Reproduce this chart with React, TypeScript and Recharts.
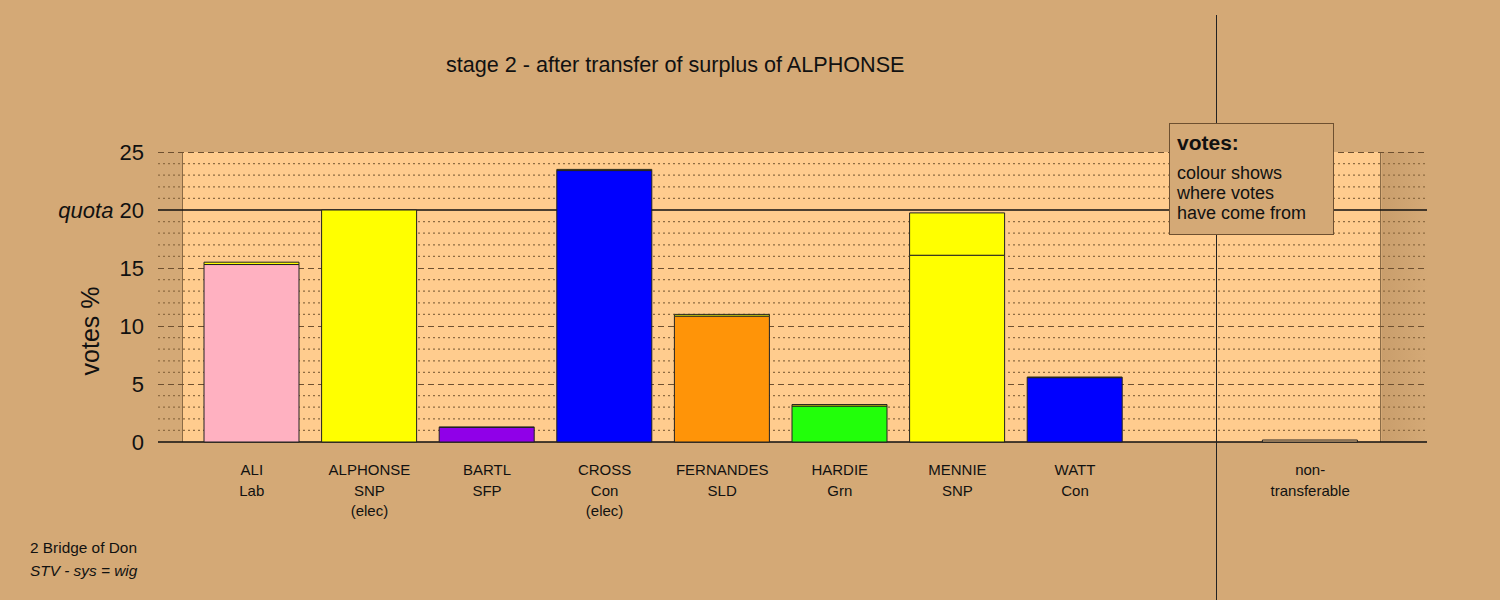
import React from 'react'
import { ComposedChart, Bar, Cell, XAxis, YAxis, CartesianGrid } from 'recharts'

const candidates = ['ALI', 'ALPHONSE', 'BARTL', 'CROSS', 'FERNANDES', 'HARDIE', 'MENNIE', 'WATT', '', 'non-transferable']
const partyLines = [
  ['ALI', 'Lab'],
  ['ALPHONSE', 'SNP', '(elec)'],
  ['BARTL', 'SFP'],
  ['CROSS', 'Con', '(elec)'],
  ['FERNANDES', 'SLD'],
  ['HARDIE', 'Grn'],
  ['MENNIE', 'SNP'],
  ['WATT', 'Con'],
  [],
  ['non-', 'transferable'],
]
// votes held before this stage, and votes received from ALPHONSE's surplus
const ownVotes = [15.3, 20, 1.25, 23.4, 10.85, 3.1, 16.1, 5.55, null, null]
const transferred = [0.2, 0, 0.05, 0.1, 0.15, 0.13, 3.65, 0.05, null, 0.17]
const ownColours = ['#FFB1C1', '#FFFF00', '#9000E8', '#0000FF', '#FF9408', '#22FF0A', '#FFFF00', '#0000FF', '#FFFF00', '#FFCC8E']
const transferColours = ['#FFFF00', '#FFFF00', '#FFFF00', '#FFFF00', '#FFFF00', '#FFFF00', '#FFFF00', '#FFFF00', '#FFFF00', '#FFCC8E']

const yTicks = [0, 5, 10, 15, 20, 25]
// minor grid split in two sets so neither gets thinned out
const minorLinesA = [2, 4, 7, 9, 12, 14, 17, 19, 22, 24]
const minorLinesB = [1, 3, 6, 8, 11, 13, 16, 18, 21, 23]
const dashedLines = [5, 10, 15, 25]
const solidLines = [0, 20]
const QUOTA = 20

const data = candidates.map((name, i) => ({
  name,
  own: ownVotes[i],
  transfer: transferred[i],
}))

const BG = '#D4A976'
const PLOT = '#FFCC8E'
const font = '"Liberation Sans", Arial, sans-serif'

const XTick = ({ x, y, index }: any) => {
  const lines = partyLines[index] || []
  return (
    <g>
      {lines.map((t, k) => (
        <text key={k} x={x} y={y + 25 + k * 20.5} textAnchor="middle" fontSize={15} fill="#111" fontFamily={font}>
          {t}
        </text>
      ))}
    </g>
  )
}

const YTick = ({ x, y, payload }: any) => (
  <text x={x} y={y + 8} textAnchor="end" fontSize={22} fill="#111" fontFamily={font}>
    {payload.value === QUOTA && <tspan fontStyle="italic">quota </tspan>}
    {payload.value}
  </text>
)

export default function App() {
  return (
    <div style={{ position: 'absolute', left: 0, top: 0, width: 1500, height: 600, background: BG, fontFamily: font, overflow: 'hidden' }}>
      <div style={{ position: 'absolute', left: 182, top: 152, width: 1199, height: 290, background: PLOT, borderLeft: '1px solid #8B6B45', borderRight: '1px solid #8B6B45', boxSizing: 'border-box' }} />
      <div style={{ position: 'absolute', left: 1382, top: 152, width: 45, height: 290, background: 'linear-gradient(to right, #C99E6C, #D4A976)' }} />
      <ComposedChart
        width={1500}
        height={600}
        data={data}
        margin={{ top: 152, right: 73, bottom: 128, left: 98 }}
        barSize={95}
        style={{ position: 'absolute', left: 0, top: 0 }}
      >
        <CartesianGrid vertical={false} stroke="#8F6C42" strokeWidth={1.2} strokeDasharray="2 3" horizontalValues={minorLinesA} />
        <CartesianGrid vertical={false} stroke="#8F6C42" strokeWidth={1.2} strokeDasharray="2 3" horizontalValues={minorLinesB} />
        <CartesianGrid vertical={false} stroke="#6E5030" strokeDasharray="6 4" horizontalValues={dashedLines} shapeRendering="crispEdges" />
        <CartesianGrid vertical={false} stroke="#111" strokeWidth={1.5} horizontalValues={solidLines} />
        <XAxis dataKey="name" height={30} axisLine={false} tickLine={false} tickMargin={2} interval={0} padding={{ left: 35, right: 58 }} tick={<XTick />} />
        <YAxis width={60} domain={[0, 25]} ticks={yTicks} axisLine={false} tickLine={false} tickMargin={8} tick={<YTick />} />
        <Bar dataKey="own" stackId="v" stroke="#222" strokeWidth={1} isAnimationActive={false}>
          {data.map((d, i) => (
            <Cell key={i} fill={ownColours[i]} />
          ))}
        </Bar>
        <Bar dataKey="transfer" stackId="v" stroke="#222" strokeWidth={1} isAnimationActive={false}>
          {data.map((d, i) => (
            <Cell key={i} fill={transferColours[i]} />
          ))}
        </Bar>
      </ComposedChart>
      <div style={{ position: 'absolute', left: 1216, top: 15, width: 1, height: 585, background: '#222' }} />
      <div style={{ position: 'absolute', left: 446, top: 52, fontSize: 21.6, color: '#111', whiteSpace: 'nowrap' }}>
        stage 2 - after transfer of surplus of ALPHONSE
      </div>
      <div style={{ position: 'absolute', left: 90, top: 331, transform: 'translate(-50%, -50%) rotate(-90deg)', fontSize: 25, color: '#111', whiteSpace: 'nowrap' }}>
        votes %
      </div>
      <div style={{ position: 'absolute', left: 1169, top: 123, width: 165, height: 112, background: BG, border: '1px solid #6E5030', boxSizing: 'border-box', padding: '7px 0 0 7px', color: '#111' }}>
        <div style={{ fontSize: 21, fontWeight: 'bold', lineHeight: '24px' }}>votes:</div>
        <div style={{ fontSize: 18, lineHeight: '20px', marginTop: 8 }}>
          colour shows
          <br />
          where votes
          <br />
          have come from
        </div>
      </div>
      <div style={{ position: 'absolute', left: 30, top: 536, fontSize: 15.4, color: '#111', lineHeight: '23px' }}>
        2 Bridge of Don
        <br />
        <i>STV - sys = wig</i>
      </div>
    </div>
  )
}
